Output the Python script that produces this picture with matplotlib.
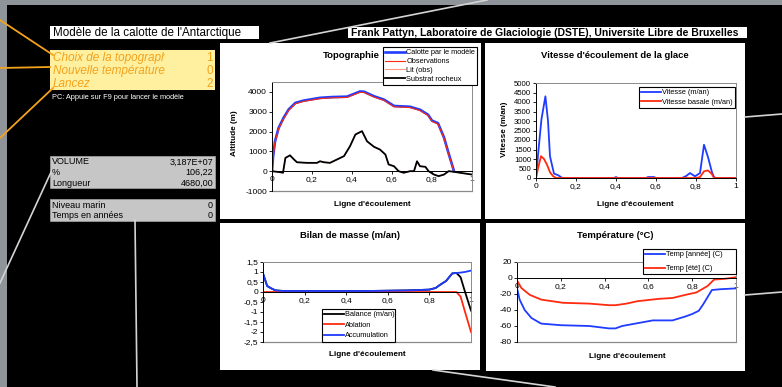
import matplotlib
matplotlib.use('Agg')
import matplotlib.pyplot as plt
from matplotlib.patches import Rectangle
from matplotlib.transforms import Bbox, TransformedBbox

plt.rcParams['font.family'] = ['Liberation Sans', 'DejaVu Sans']

# ---------------- data ----------------
x_ticks = [0, 0.2, 0.4, 0.6, 0.8, 1.0]
x_tick_labels = ["0", "0,2", "0,4", "0,6", "0,8", "1"]

# Topographie
surf_x = [0, 0.005, 0.015, 0.033, 0.058, 0.083, 0.117, 0.158, 0.24, 0.30, 0.375, 0.41, 0.44,
          0.46, 0.51, 0.56, 0.61, 0.69, 0.74, 0.78, 0.80, 0.83, 0.86, 0.88, 0.91]
surf_model = [0, 700, 1500, 2180, 2690, 3110, 3445, 3560, 3700, 3740, 3760, 3900, 4020,
              4010, 3780, 3610, 3290, 3250, 3100, 2850, 2550, 2420, 1700, 1000, 0]
surf_obs = [0, 690, 1470, 2140, 2650, 3070, 3405, 3520, 3660, 3700, 3720, 3860, 3980,
            3970, 3740, 3570, 3250, 3210, 3060, 2810, 2510, 2380, 1660, 960, 0]
bed_x = [0, 0.04, 0.055, 0.067, 0.09, 0.11, 0.125, 0.175, 0.225, 0.24, 0.26, 0.29, 0.325,
         0.36, 0.39, 0.417, 0.45, 0.475, 0.51, 0.54, 0.567, 0.583, 0.61, 0.633, 0.658,
         0.69, 0.71, 0.725, 0.74, 0.767, 0.783, 0.81, 0.833, 0.86, 0.883, 0.91, 0.94, 1.0]
bed_z = [0, -50, -80, 670, 800, 590, 450, 420, 420, 500, 450, 420, 590,
         760, 1260, 1850, 2020, 1510, 1230, 1090, 840, 340, 250, 0, -80,
         0, 0, 500, 250, 220, 0, -170, -250, -170, 0, -30, -80, -170]
topo_yticks = [-1000, 0, 1000, 2000, 3000, 4000]
topo_yticklabels = ["-1000", "0", "1000", "2000", "3000", "4000"]

# Vitesse
vel_x = [0, 0.01, 0.027, 0.047, 0.06, 0.07, 0.09, 0.11, 0.125, 0.13, 0.39, 0.40, 0.41,
         0.55, 0.56, 0.59, 0.60, 0.73, 0.75, 0.77, 0.795, 0.82, 0.84, 0.86, 0.88, 0.89, 0.90, 1.0]
vel_surf = [0, 1200, 3070, 4300, 3000, 1140, 230, 150, 50, 0, 0, 50, 0,
            0, 50, 50, 0, 0, 100, 260, 90, 260, 1750, 1100, 300, 50, 0, 0]
velb_x = [0, 0.01, 0.025, 0.04, 0.055, 0.07, 0.085, 0.10, 0.80, 0.82, 0.84, 0.86, 0.88, 0.89, 1.0]
vel_basal = [0, 500, 1150, 1000, 700, 300, 100, 0, 0, 50, 350, 400, 200, 0, 0]
vel_yticks = [0, 500, 1000, 1500, 2000, 2500, 3000, 3500, 4000, 4500, 5000]

# Bilan de masse
mb_x = [0, 0.02, 0.04, 0.06, 0.10, 0.30, 0.50, 0.70, 0.80, 0.83, 0.85, 0.88, 0.91, 0.93, 0.95, 0.97, 1.0]
mb_accum = [0.93, 0.30, 0.18, 0.08, 0.05, 0.05, 0.05, 0.08, 0.12, 0.20, 0.35, 0.55, 0.93, 0.95, 0.97, 1.0, 1.07]
mb_ablation = [0, 0, 0, 0, 0, 0, 0, 0, 0, 0, 0, 0, 0, 0, -0.23, -0.95, -2.0]
mb_balance = [0.93, 0.30, 0.18, 0.08, 0.05, 0.05, 0.05, 0.08, 0.12, 0.20, 0.35, 0.55, 0.93, 0.95, 0.74, 0.05, -0.93]
mb_yticks = [1.5, 1, 0.5, 0, -0.5, -1, -1.5, -2, -2.5]
mb_yticklabels = ["1,5", "1", "0,5", "0", "-0,5", "-1", "-1,5", "-2", "-2,5"]

# Temperature
t_x = [0, 0.012, 0.035, 0.066, 0.11, 0.20, 0.33, 0.42, 0.45, 0.48, 0.56, 0.62, 0.71, 0.77,
       0.80, 0.83, 0.85, 0.89, 0.93, 1.0]
t_year = [-12.5, -27, -40, -50, -57, -59, -60, -63, -63, -60, -56, -53, -53, -48,
          -45, -41, -33, -15, -14, -13]
ts_x = [0, 0.02, 0.058, 0.11, 0.21, 0.33, 0.42, 0.45, 0.50, 0.55, 0.65, 0.71, 0.77, 0.82,
        0.87, 0.90, 0.95, 1.0]
t_summer = [-3, -12.5, -21, -27, -31, -32, -34, -34, -32, -29, -26, -25, -21, -18,
            -10, -2, -1, 1]
t_yticks = [20, 0, -20, -40, -60, -80]
t_yticklabels = ["20", "0", "-20", "-40", "-60", "-80"]

# Left info block
yellow_labels = ["Choix de la topographie", "Nouvelle température", "Lancez"]
yellow_values = ["1", "0", "2"]
stats_labels = ["VOLUME", "%", "Longueur"]
stats_values = ["3,187E+07", "106,22", "4680,00"]
sea_labels = ["Niveau marin", "Temps en années"]
sea_values = ["0", "0"]

BLUE = '#1f3cff'
RED = '#ff2a10'
SALMON = '#ff9a80'
ORANGE = '#f2a21c'
LINEGREY = '#d4d4d4'

# ---------------- figure ----------------
W, H = 782, 387
fig = plt.figure(figsize=(W / 100, H / 100), dpi=100)
fig.patch.set_facecolor('#8f949a')

bg = fig.add_axes([0, 0, 1, 1])
bg.set_xlim(0, W)
bg.set_ylim(H, 0)
bg.axis('off')


def rect(x0, y0, x1, y1, **kw):
    bg.add_patch(Rectangle((x0, y0), x1 - x0, y1 - y0, **kw))


rect(7, 5, 782, 387, fc='black', ec='none')

# connector lines
bg.plot([0, 53], [20, 55], color=ORANGE, lw=1.3)
bg.plot([0, 50], [68, 67], color=ORANGE, lw=1.3)
bg.plot([0, 53], [138, 88], color=ORANGE, lw=1.3)
bg.plot([0, 52], [283, 170], color=LINEGREY, lw=1.2)
bg.plot([135, 137], [220, 387], color=LINEGREY, lw=1.2)
bg.plot([270, 487], [43, 0], color=LINEGREY, lw=1.2)
bg.plot([745, 782], [117, 114], color=LINEGREY, lw=1.2)
bg.plot([745, 782], [295, 292], color=LINEGREY, lw=1.2)
bg.plot([433, 555], [370, 387], color=LINEGREY, lw=1.2)

# header boxes
rect(50, 26, 259, 39, fc='white', ec='none')
bg.text(53, 32.8, "Modèle de la calotte de l'Antarctique", fontsize=8.4,
        va='center', ha='left', color='black')
rect(348, 27, 747, 38, fc='white', ec='none')
bg.text(351, 32.8, "Frank Pattyn, Laboratoire de Glaciologie (DSTE), Universite Libre de Bruxelles",
        fontsize=7.5, fontweight='bold', va='center', ha='left', color='black')

# yellow box
rect(50, 50, 215, 90, fc='#fff0a0', ec='none')
clip_bb = TransformedBbox(Bbox([[50, 50], [165, 90]]), bg.transData)
for i, (lab, val) in enumerate(zip(yellow_labels, yellow_values)):
    yy = 58 + i * 13
    t = bg.text(53, yy, lab, fontsize=8.5, style='italic', color=ORANGE, va='center', ha='left')
    t.set_clip_box(clip_bb)
    t.set_clip_on(True)
    bg.text(213, yy, val, fontsize=8.5, color=ORANGE, va='center', ha='right')

bg.text(52, 97.5, "PC: Appuie sur F9 pour lancer le modèle", fontsize=5.3, color='white',
        va='center', ha='left')

# grey boxes
rect(50, 156, 215, 188, fc='#c6c6c6', ec='#9a9a9a', lw=0.6)
for i, (lab, val) in enumerate(zip(stats_labels, stats_values)):
    yy = 162 + i * 10.5
    bg.text(52, yy, lab, fontsize=6.5, color='black', va='center', ha='left')
    bg.text(213, yy, val, fontsize=6.5, color='black', va='center', ha='right')
rect(50, 199, 215, 221, fc='#c6c6c6', ec='#9a9a9a', lw=0.6)
for i, (lab, val) in enumerate(zip(sea_labels, sea_values)):
    yy = 205 + i * 10.8
    bg.text(52, yy, lab, fontsize=6.5, color='black', va='center', ha='left')
    bg.text(213, yy, val, fontsize=6.5, color='black', va='center', ha='right')

# white chart panels
rect(220, 43, 481, 219, fc='white', ec='none')
rect(485, 43, 745, 219, fc='white', ec='none')
rect(220, 223, 480, 370, fc='white', ec='none')
rect(486, 223, 745, 371, fc='white', ec='none')

# panel texts
TFS = 6.8
LFS = 5.9
bg.text(351, 56, "Topographie", fontsize=TFS, fontweight='bold', ha='center', va='center')
bg.text(615, 56, "Vitesse d'écoulement de la glace", fontsize=TFS, fontweight='bold', ha='center', va='center')
bg.text(350, 236, "Bilan de masse (m/an)", fontsize=TFS, fontweight='bold', ha='center', va='center')
bg.text(615, 236, "Température (°C)", fontsize=TFS, fontweight='bold', ha='center', va='center')
bg.text(372, 204, "Ligne d'écoulement", fontsize=LFS, fontweight='bold', ha='center', va='center')
bg.text(635, 204, "Ligne d'écoulement", fontsize=LFS, fontweight='bold', ha='center', va='center')
bg.text(367, 355, "Ligne d'écoulement", fontsize=LFS, fontweight='bold', ha='center', va='center')
bg.text(627, 356, "Ligne d'écoulement", fontsize=LFS, fontweight='bold', ha='center', va='center')
bg.text(234, 133, "Altitude (m)", fontsize=LFS, fontweight='bold', ha='center', va='center', rotation=90)
bg.text(504, 129, "Vitesse (m/an)", fontsize=LFS, fontweight='bold', ha='center', va='center', rotation=90)


def px_axes(x0, y0, x1, y1):
    return fig.add_axes([x0 / W, 1 - y1 / H, (x1 - x0) / W, (y1 - y0) / H])


def style(ax, ylim, yticks, yticklabels, at_zero):
    ax.set_facecolor('white')
    ax.set_xlim(0, 1)
    ax.set_ylim(*ylim)
    ax.set_xticks(x_ticks)
    ax.set_xticklabels(x_tick_labels)
    ax.set_yticks(yticks)
    ax.set_yticklabels(yticklabels)
    ax.tick_params(labelsize=6, length=2, width=0.6, pad=1.5, colors='black', direction='out')
    for s in ['top', 'right']:
        ax.spines[s].set_color('#8a8a8a')
        ax.spines[s].set_linewidth(0.7)
    ax.spines['left'].set_color('black')
    ax.spines['left'].set_linewidth(0.7)
    ax.spines['bottom'].set_color('black')
    ax.spines['bottom'].set_linewidth(0.7)
    if at_zero:
        ax.spines['bottom'].set_position(('data', 0))
        ax.plot([0, 1], [ylim[0], ylim[0]], color='#8a8a8a', lw=0.9, clip_on=False, zorder=0.5)


def legend(ax, handles, labels, x0, y0, w, spacing):
    lg = ax.legend(handles, labels, loc='upper left',
                   bbox_to_anchor=(x0 / W, 1 - y0 / H, w / W, 0.0),
                   bbox_transform=fig.transFigure, mode='expand',
                   fontsize=5.3, frameon=True, fancybox=False, edgecolor='black',
                   framealpha=1, borderpad=0.3, handlelength=2.7, handletextpad=0.15,
                   labelspacing=spacing, borderaxespad=0)
    lg.get_frame().set_linewidth(0.8)
    return lg


# Topographie
ax1 = px_axes(272, 82, 472, 191)
style(ax1, (-1000, 4500), topo_yticks, topo_yticklabels, True)
h_lit, = ax1.plot(bed_x, bed_z, color=SALMON, lw=0.8)
h_mod, = ax1.plot(surf_x, surf_model, color=BLUE, lw=1.9)
h_obs, = ax1.plot(surf_x, surf_obs, color=RED, lw=0.8)
h_bed, = ax1.plot(bed_x, bed_z, color='black', lw=1.3)
legend(ax1, [h_mod, h_obs, h_lit, h_bed],
       ["Calotte par le modèle", "Observations", "Lit (obs)", "Substrat rocheux"],
       383, 47, 94, 0.22)

# Vitesse
ax2 = px_axes(536, 83, 736, 178)
style(ax2, (0, 5000), vel_yticks, [str(v) for v in vel_yticks], False)
h_v, = ax2.plot(vel_x, vel_surf, color=BLUE, lw=1.3)
h_vb, = ax2.plot(velb_x, vel_basal, color=RED, lw=1.3)
ax2.tick_params(axis='y', labelsize=5.6)
legend(ax2, [h_v, h_vb], ["Vitesse (m/an)", "Vitesse basale (m/an)"], 639, 87, 96, 0.3)

# Bilan de masse
ax3 = px_axes(263, 262, 471, 342)
style(ax3, (-2.5, 1.5), mb_yticks, mb_yticklabels, True)
h_bal, = ax3.plot(mb_x, mb_balance, color='black', lw=1.3)
h_abl, = ax3.plot(mb_x, mb_ablation, color=RED, lw=1.3)
h_acc, = ax3.plot(mb_x, mb_accum, color=BLUE, lw=1.3)
legend(ax3, [h_bal, h_abl, h_acc], ["Balance (m/an)", "Ablation", "Accumulation"], 322, 309, 73, 0.45)

# Temperature
ax4 = px_axes(517, 262, 736, 342)
style(ax4, (-80, 20), t_yticks, t_yticklabels, True)
h_ty, = ax4.plot(t_x, t_year, color=BLUE, lw=1.3)
h_ts, = ax4.plot(ts_x, t_summer, color=RED, lw=1.3)
legend(ax4, [h_ty, h_ts], ["Temp [année] (C)", "Temp [été] (C)"], 643, 249, 93, 0.9)

fig.savefig('out.png', dpi=100, facecolor=fig.get_facecolor())
